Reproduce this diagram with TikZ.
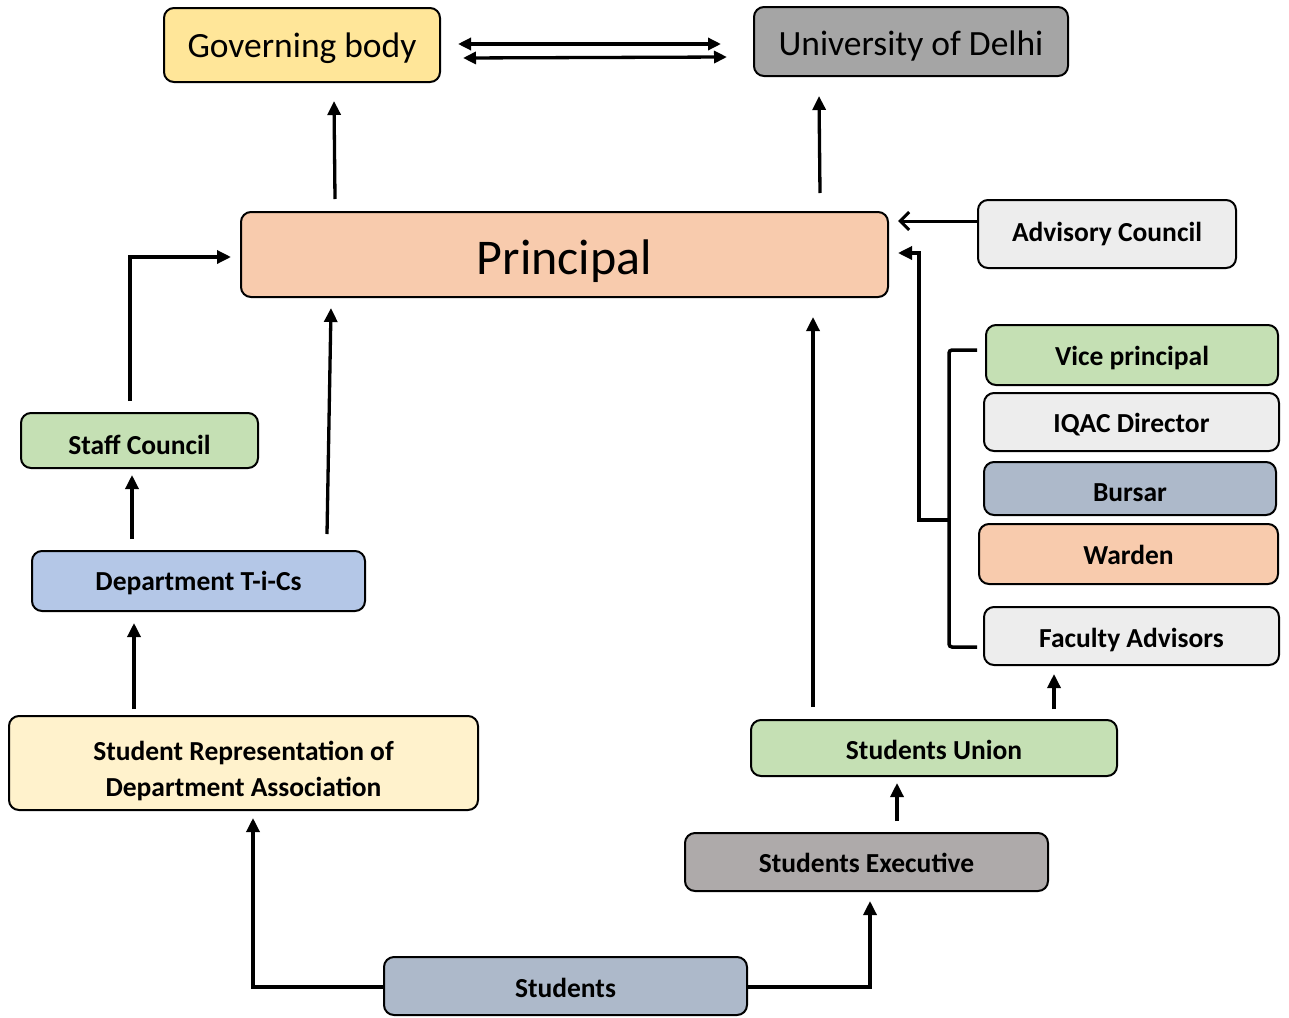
\documentclass[tikz,border=0pt]{standalone}
\usepackage{fontspec}
\setmainfont{Carlito}
\usetikzlibrary{arrows.meta,calc}
\definecolor{cgov}{HTML}{FFE699}
\definecolor{cdel}{HTML}{A5A5A5}
\definecolor{cprin}{HTML}{F8CBAD}
\definecolor{clight}{HTML}{EDEDED}
\definecolor{cgreen}{HTML}{C5E0B4}
\definecolor{cbluegrey}{HTML}{ADB9CA}
\definecolor{cblue}{HTML}{B4C7E7}
\definecolor{ccream}{HTML}{FFF2CC}
\definecolor{cexec}{HTML}{AEAAAA}
% push a one-line label down by #1 inside its box
\newcommand{\dn}[2]{\raisebox{0pt}[\dimexpr\height+#1*2\relax][\depth]{#2}}
\tikzset{
  box/.style={draw=black, line width=2pt, rounded corners=10pt, inner sep=0pt, align=center,
    font=\fontsize{27.5}{36}\selectfont\bfseries},
  bigbox/.style={box, font=\fontsize{35.5}{42}\selectfont},
  arr/.style={line width=3.3pt, -{Triangle[length=14pt,width=13pt]}},
  darr/.style={line width=3.3pt, {Triangle[length=13pt,width=12pt]}-{Triangle[length=13pt,width=12pt]}},
  openarr/.style={line width=3pt, -{Straight Barb[length=9pt,width=18pt,line width=3pt]}},
  bracketline/.style={draw=black, line width=3.5pt, rounded corners=3pt},
}
\begin{document}
\begin{tikzpicture}[x=1pt,y=-1pt]
\useasboundingbox (0,0) rectangle (1289,1017);
\node[bigbox, fill=cgov, minimum width=276, minimum height=74] (gov) at (302,45) {\dn{3pt}{Governing body}};
\node[bigbox, fill=cdel, minimum width=314, minimum height=69] (udel) at (911,41.5) {\dn{5pt}{University of Delhi}};
\node[box, fill=cprin, minimum width=647, minimum height=85, font=\fontsize{50}{58}\selectfont] (prin) at (564.5,254.5) {\dn{7pt}{Principal}};
\node[box, fill=clight, minimum width=258, minimum height=68] (adv) at (1107,234) {Advisory Council};
\node[box, fill=cgreen, minimum width=292, minimum height=60] (vp) at (1132,355) {\dn{3pt}{Vice principal}};
\node[box, fill=clight, minimum width=295, minimum height=58] (iqac) at (1131.5,422) {\dn{3pt}{IQAC Director}};
\node[box, fill=cbluegrey, minimum width=292, minimum height=53] (bursar) at (1130,488.5) {\dn{4pt}{Bursar}};
\node[box, fill=cprin, minimum width=299, minimum height=60] (warden) at (1128.5,554) {\dn{1pt}{Warden}};
\node[box, fill=clight, minimum width=295, minimum height=58] (fac) at (1131.5,636) {\dn{4pt}{Faculty Advisors}};
\node[box, fill=cgreen, minimum width=237, minimum height=55] (staff) at (139.5,440.5) {\dn{4pt}{Staff Council}};
\node[box, fill=cblue, minimum width=333, minimum height=60] (dept) at (198.5,581) {\dn{2pt}{Department T-i-Cs}};
\node[box, fill=ccream, minimum width=469, minimum height=94] (srep) at (243.5,763) {\rule{0pt}{35pt}Student Representation of\\Department Association};
\node[box, fill=cbluegrey, minimum width=363, minimum height=58] (stud) at (565.5,986) {\dn{2pt}{Students}};
\node[box, fill=cexec, minimum width=363, minimum height=58] (exec) at (866.5,862) {\dn{1pt}{Students Executive}};
\node[box, fill=cgreen, minimum width=366, minimum height=56] (union) at (934,748) {\dn{2pt}{Students Union}};

% top double arrows
\draw[darr] ($(gov.east)+(17,-1)$) -- ($(udel.west)+(-32,2.5)$);
\draw[darr] ($(gov.east)+(22,13)$) -- ($(udel.west)+(-26,15.5)$);
% principal up
\draw[arr] ($(prin.north)+(-229.5,-12)$) -- ($(gov.south)+(32,18)$);
\draw[arr] ($(prin.north)+(255.5,-18)$) -- ($(udel.south)+(-92,19)$);
% advisory
\draw[openarr] ($(adv.west)+(0,-13)$) -- ($(prin.east)+(9,-33.5)$);
% bracket
\coordinate (bk) at ($(vp.west)+(-36,165)$);
\draw[bracketline] ($(vp.west)+(-8,-5)$) -- ($(vp.west)+(-36,-5)$) -- ($(fac.west)+(-34,11)$) -- ($(fac.west)+(-6,11)$);
\draw[arr] (bk) -- ++(-30,0) |- ($(prin.east)+(9,-1.5)$);
% left side
\draw[arr] ($(staff.north)+(-9.5,-11)$) |- ($(prin.west)+(-9,2.5)$);
\draw[arr] ($(dept.north)+(-66.5,-11)$) -- ($(staff.south)+(-7.5,6)$);
\draw[arr] ($(dept.north)+(128.5,-16)$) -- ($(prin.south)+(-233.5,10)$);
\draw[arr] ($(srep.north)+(-109.5,-6)$) -- ($(dept.south)+(-64.5,11)$);
% bottom
\draw[arr] ($(stud.west)+(0,1)$) -| ($(srep.south)+(9.5,7)$);
\draw[arr] ($(stud.east)+(0,1)$) -| ($(exec.south)+(3.5,9)$);
\draw[arr] ($(exec.north)+(30.5,-11)$) -- ($(union.south)+(-37,6)$);
\draw[arr] ($(union.north)+(-121,-12)$) -- ($(prin.south)+(248.5,19)$);
\draw[arr] ($(union.north)+(120,-10)$) -- ($(fac.south)+(-77.5,8)$);
\end{tikzpicture}
\end{document}
